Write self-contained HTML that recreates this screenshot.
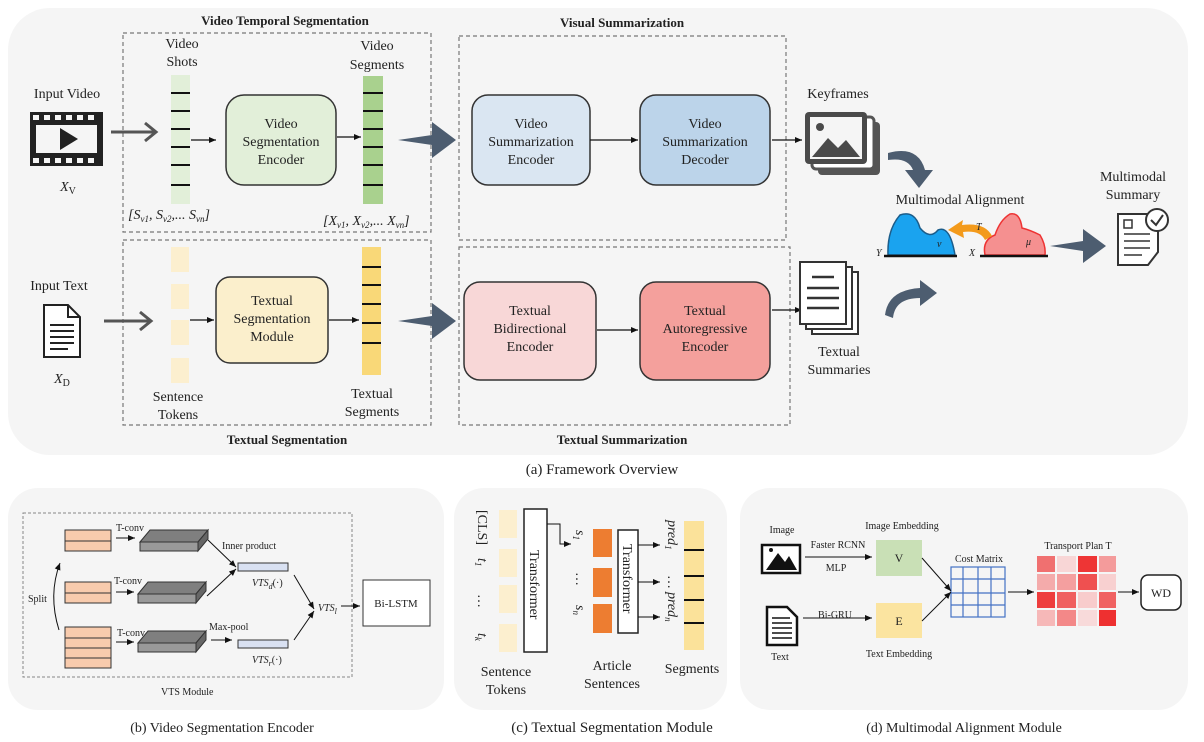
<!DOCTYPE html>
<html><head><meta charset="utf-8"><style>
html,body{margin:0;padding:0;background:#fff}
svg{display:block;font-family:"Liberation Serif",serif}
.t{font-size:14px;fill:#222}
.s{font-size:10px;fill:#222}
.b{font-weight:bold;font-size:13px}
.i{font-style:italic}
</style></head><body>
<svg width="1204" height="742" viewBox="0 0 1204 742" xmlns="http://www.w3.org/2000/svg">
<defs>
<marker id="a" markerWidth="8" markerHeight="8" refX="7" refY="4" orient="auto" markerUnits="userSpaceOnUse"><path d="M0,1 L7,4 L0,7 z" fill="#111"/></marker>
</defs>
<rect x="8" y="8" width="1180" height="447" rx="42" fill="#f5f5f5"/>
<g fill="none" stroke="#777" stroke-dasharray="4,3" stroke-width="1.2">
<rect x="123" y="33" width="308" height="199"/>
<rect x="459" y="36" width="327" height="204"/>
<rect x="123" y="240" width="308" height="185"/>
<rect x="459" y="247" width="331" height="178"/>
</g>
<g class="b" text-anchor="middle" fill="#222">
<text x="285" y="25">Video Temporal Segmentation</text>
<text x="622" y="27">Visual Summarization</text>
<text x="287" y="444">Textual Segmentation</text>
<text x="622" y="444">Textual Summarization</text>
</g>
<g class="t" text-anchor="middle">
<text x="67" y="98">Input Video</text>
<text x="182" y="48">Video</text><text x="182" y="66">Shots</text>
<text x="377" y="50">Video</text><text x="377" y="69">Segments</text>
<text x="59" y="290">Input Text</text>
<text x="178" y="401">Sentence</text><text x="178" y="419">Tokens</text>
<text x="372" y="398">Textual</text><text x="372" y="416">Segments</text>
<text x="838" y="98">Keyframes</text>
<text x="839" y="356">Textual</text><text x="839" y="374">Summaries</text>
<text x="960" y="204">Multimodal Alignment</text>
<text x="1133" y="181">Multimodal</text><text x="1133" y="199">Summary</text>
<text x="602" y="474" font-size="15">(a) Framework Overview</text>
</g>
<text x="68" y="191" class="t i" text-anchor="middle">X<tspan font-size="10" dy="3" font-style="normal">V</tspan></text>
<text x="62" y="383" class="t i" text-anchor="middle">X<tspan font-size="10" dy="3" font-style="normal">D</tspan></text>
<text x="128" y="219" class="t i">[S<tspan font-size="9" dy="3">v1</tspan><tspan dy="-3">, S</tspan><tspan font-size="9" dy="3">v2</tspan><tspan dy="-3">,... S</tspan><tspan font-size="9" dy="3">vn</tspan><tspan dy="-3">]</tspan></text>
<text x="323" y="225" class="t i">[X<tspan font-size="9" dy="3">v1</tspan><tspan dy="-3">, X</tspan><tspan font-size="9" dy="3">v2</tspan><tspan dy="-3">,... X</tspan><tspan font-size="9" dy="3">vn</tspan><tspan dy="-3">]</tspan></text>
<rect x="30" y="112" width="73" height="54" fill="#222"/>
<rect x="36" y="125" width="61" height="28" fill="#f5f5f5"/>
<g fill="#f5f5f5"><rect x="33" y="115" width="6" height="5"/><rect x="44" y="115" width="6" height="5"/><rect x="55" y="115" width="6" height="5"/><rect x="66" y="115" width="6" height="5"/><rect x="77" y="115" width="6" height="5"/><rect x="88" y="115" width="6" height="5"/>
<rect x="33" y="158" width="6" height="5"/><rect x="44" y="158" width="6" height="5"/><rect x="55" y="158" width="6" height="5"/><rect x="66" y="158" width="6" height="5"/><rect x="77" y="158" width="6" height="5"/><rect x="88" y="158" width="6" height="5"/></g>
<path d="M60,128 L78,139 L60,150 z" fill="#222"/>
<path d="M44,305 L68,305 L80,317 L80,357 L44,357 z" fill="#fff" stroke="#222" stroke-width="2"/>
<path d="M68,305 L68,317 L80,317" fill="none" stroke="#222" stroke-width="2"/>
<g stroke="#222" stroke-width="2"><line x1="50" y1="325" x2="74" y2="325"/><line x1="50" y1="331" x2="74" y2="331"/><line x1="50" y1="337" x2="74" y2="337"/><line x1="50" y1="343" x2="74" y2="343"/><line x1="50" y1="349" x2="68" y2="349"/></g>
<g stroke="#555" stroke-width="3" fill="none"><path d="M111,132 L155,132 M145,123 L156,132 L145,141"/><path d="M104,321 L150,321 M140,312 L151,321 L140,330"/></g>
<rect x="171" y="75" width="19" height="129" fill="#e2efd9"/>
<g stroke="#111" stroke-width="2"><line x1="171" y1="93" x2="190" y2="93"/><line x1="171" y1="111" x2="190" y2="111"/><line x1="171" y1="129" x2="190" y2="129"/><line x1="171" y1="147" x2="190" y2="147"/><line x1="171" y1="165" x2="190" y2="165"/><line x1="171" y1="185" x2="190" y2="185"/></g>
<rect x="363" y="76" width="20" height="128" fill="#a9d18e"/>
<g stroke="#111" stroke-width="2"><line x1="363" y1="93" x2="383" y2="93"/><line x1="363" y1="111" x2="383" y2="111"/><line x1="363" y1="129" x2="383" y2="129"/><line x1="363" y1="147" x2="383" y2="147"/><line x1="363" y1="165" x2="383" y2="165"/><line x1="363" y1="185" x2="383" y2="185"/></g>
<g fill="#fcefcf"><rect x="171" y="247" width="18" height="25"/><rect x="171" y="284" width="18" height="25"/><rect x="171" y="320" width="18" height="25"/><rect x="171" y="358" width="18" height="25"/></g>
<rect x="362" y="247" width="19" height="128" fill="#f9d878"/>
<g stroke="#111" stroke-width="2"><line x1="362" y1="267" x2="381" y2="267"/><line x1="362" y1="285" x2="381" y2="285"/><line x1="362" y1="304" x2="381" y2="304"/><line x1="362" y1="323" x2="381" y2="323"/><line x1="362" y1="343" x2="381" y2="343"/></g>
<g stroke="#333" stroke-width="1.5">
<rect x="226" y="95" width="110" height="90" rx="18" fill="#e2efd9"/>
<rect x="472" y="95" width="118" height="90" rx="16" fill="#dae6f2"/>
<rect x="640" y="95" width="130" height="90" rx="16" fill="#bcd4ea"/>
<rect x="216" y="277" width="112" height="86" rx="14" fill="#fbefcc"/>
<rect x="464" y="282" width="132" height="98" rx="16" fill="#f8d7d7"/>
<rect x="640" y="282" width="130" height="98" rx="16" fill="#f4a09c"/>
</g>
<g class="t" text-anchor="middle">
<text x="281" y="128">Video</text><text x="281" y="146">Segmentation</text><text x="281" y="164">Encoder</text>
<text x="531" y="128">Video</text><text x="531" y="146">Summarization</text><text x="531" y="164">Encoder</text>
<text x="705" y="128">Video</text><text x="705" y="146">Summarization</text><text x="705" y="164">Decoder</text>
<text x="272" y="305">Textual</text><text x="272" y="323">Segmentation</text><text x="272" y="341">Module</text>
<text x="530" y="315">Textual</text><text x="530" y="333">Bidirectional</text><text x="530" y="351">Encoder</text>
<text x="705" y="315">Textual</text><text x="705" y="333">Autoregressive</text><text x="705" y="351">Encoder</text>
</g>
<g stroke="#111" stroke-width="1.2" marker-end="url(#a)">
<line x1="191" y1="140" x2="216" y2="140"/><line x1="337" y1="137" x2="361" y2="137"/>
<line x1="590" y1="140" x2="638" y2="140"/><line x1="772" y1="140" x2="802" y2="140"/>
<line x1="190" y1="320" x2="214" y2="320"/><line x1="329" y1="320" x2="359" y2="320"/>
<line x1="597" y1="330" x2="638" y2="330"/><line x1="772" y1="310" x2="802" y2="310"/>
</g>
<g fill="#4d5d70">
<path d="M398,140 L432,135 L432,122 L456,140 L432,158 L432,145 z"/>
<path d="M398,321 L432,316 L432,303 L456,321 L432,339 L432,326 z"/>
<path d="M1050,246 L1083,241 L1083,229 L1106,246 L1083,263 L1083,251 z"/>
<path d="M888,153 Q918,145 925,170 L933,170 L919,188 L905,170 L913,170 Q908,157 888,160 z"/>
<path d="M885,315 Q888,290 920,288 L920,280 L937,293 L920,306 L920,298 Q895,298 893,318 z"/>
</g>
<rect x="818" y="122" width="62" height="53" rx="4" fill="#555"/>
<rect x="812" y="117" width="62" height="52" rx="4" fill="#fff" stroke="#555" stroke-width="3"/>
<rect x="805" y="112" width="62" height="52" rx="4" fill="#4a4a4a"/>
<rect x="810" y="117" width="52" height="42" fill="#f5f5f5"/>
<path d="M812,157 L828,138 L838,148 L846,140 L860,157 z" fill="#4a4a4a"/><circle cx="820" cy="127" r="4" fill="#4a4a4a"/>
<rect x="812" y="272" width="46" height="62" fill="#fff" stroke="#333" stroke-width="2"/>
<rect x="806" y="267" width="46" height="62" fill="#fff" stroke="#333" stroke-width="2"/>
<rect x="800" y="262" width="46" height="62" fill="#fff" stroke="#333" stroke-width="2"/>
<g stroke="#333" stroke-width="2.5"><line x1="812" y1="277" x2="834" y2="277"/><line x1="807" y1="288" x2="839" y2="288"/><line x1="807" y1="298" x2="839" y2="298"/><line x1="807" y1="308" x2="839" y2="308"/></g>
<path d="M888,255 Q887,230 900,215 Q915,210 920,228 Q930,240 938,230 Q950,225 955,255 z" fill="#1aa3ef" stroke="#1c5d8a" stroke-width="1.5"/>
<path d="M985,255 Q982,240 995,235 Q1000,220 1010,214 Q1020,212 1022,228 Q1030,230 1040,235 Q1046,245 1045,255 z" fill="#f59090" stroke="#e33" stroke-width="1.5"/>
<line x1="884" y1="256" x2="957" y2="256" stroke="#111" stroke-width="2.5"/>
<line x1="980" y1="256" x2="1048" y2="256" stroke="#111" stroke-width="2.5"/>
<path d="M992,236 Q985,222 962,225 L963,220 L948,230 L964,238 L963,232 Q980,230 985,240 z" fill="#f39a1b"/>
<text x="976" y="230" class="s i">T</text>
<text x="937" y="247" class="s i">ν</text><text x="1026" y="245" class="s i">μ</text>
<text x="876" y="256" class="s i" font-size="11">Y</text><text x="969" y="256" class="s i" font-size="11">X</text>
<path d="M1118,214 L1158,214 L1158,252 L1148,265 L1118,265 z" fill="#fff" stroke="#333" stroke-width="2"/>
<rect x="1124" y="220" width="8" height="8" fill="none" stroke="#333" stroke-width="1.5"/>
<g stroke="#333" stroke-width="1.5"><line x1="1124" y1="234" x2="1150" y2="234"/><line x1="1124" y1="241" x2="1150" y2="241"/><line x1="1124" y1="248" x2="1150" y2="248"/><line x1="1124" y1="255" x2="1142" y2="255"/></g>
<circle cx="1157" cy="220" r="11" fill="#fff" stroke="#333" stroke-width="2"/>
<path d="M1151,220 L1156,225 L1163,215" fill="none" stroke="#333" stroke-width="2"/>

<rect x="8" y="488" width="436" height="222" rx="30" fill="#f5f5f5"/>
<rect x="23" y="513" width="329" height="164" fill="none" stroke="#888" stroke-dasharray="3,2"/>
<g fill="#f8cbad" stroke="#333" stroke-width="1">
<rect x="65" y="530" width="46" height="11"/><rect x="65" y="541" width="46" height="10"/>
<rect x="65" y="582" width="46" height="11"/><rect x="65" y="593" width="46" height="10"/>
<rect x="65" y="627" width="46" height="11"/><rect x="65" y="638" width="46" height="10"/><rect x="65" y="648" width="46" height="10"/><rect x="65" y="658" width="46" height="10"/>
</g>
<g stroke="#333" stroke-width="1">
<path d="M140,542 L150,530 L208,530 L198,542 z" fill="#7f7f7f"/><rect x="140" y="542" width="58" height="9" fill="#999"/><path d="M198,542 L208,530 L208,539 L198,551 z" fill="#666"/>
<path d="M138,594 L148,582 L206,582 L196,594 z" fill="#7f7f7f"/><rect x="138" y="594" width="58" height="9" fill="#999"/><path d="M196,594 L206,582 L206,591 L196,603 z" fill="#666"/>
<path d="M138,643 L148,631 L206,631 L196,643 z" fill="#7f7f7f"/><rect x="138" y="643" width="58" height="9" fill="#999"/><path d="M196,643 L206,631 L206,640 L196,652 z" fill="#666"/>
<rect x="238" y="563" width="50" height="8" fill="#d9e1f2"/><rect x="238" y="640" width="50" height="8" fill="#d9e1f2"/>
<rect x="363" y="580" width="67" height="46" fill="#fff"/>
</g>
<g stroke="#111" stroke-width="1" fill="none" marker-end="url(#a)">
<line x1="116" y1="538" x2="135" y2="538"/><line x1="116" y1="592" x2="134" y2="592"/><line x1="116" y1="642" x2="134" y2="642"/>
<line x1="211" y1="640" x2="232" y2="640"/>
<path d="M208,540 L236,567"/><path d="M207,596 L236,569"/>
<path d="M294,575 L314,609"/><path d="M294,640 L314,611"/>
<line x1="341" y1="606" x2="360" y2="606"/>
<path d="M59,630 Q48,595 60,563"/>
</g>
<g class="s">
<text x="116" y="531">T-conv</text><text x="114" y="584">T-conv</text><text x="117" y="636">T-conv</text>
<text x="222" y="549">Inner product</text><text x="209" y="630">Max-pool</text>
<text x="28" y="602">Split</text>
<text x="161" y="695">VTS Module</text>
<text x="396" y="607" text-anchor="middle" font-size="11">Bi-LSTM</text>
</g>
<text x="252" y="586" class="s i" font-size="11">VTS<tspan font-size="8" dy="3">d</tspan><tspan dy="-3" font-style="normal">(·)</tspan></text>
<text x="252" y="663" class="s i" font-size="11">VTS<tspan font-size="8" dy="3">r</tspan><tspan dy="-3" font-style="normal">(·)</tspan></text>
<text x="318" y="611" class="s i" font-size="11">VTS<tspan font-size="8" dy="3">l</tspan></text>
<text x="222" y="732" class="t" text-anchor="middle" font-size="15">(b) Video Segmentation Encoder</text>

<rect x="454" y="488" width="273" height="222" rx="30" fill="#f5f5f5"/>
<g fill="#fcefcf"><rect x="499" y="510" width="18" height="28"/><rect x="499" y="549" width="18" height="28"/><rect x="499" y="585" width="18" height="28"/><rect x="499" y="624" width="18" height="28"/></g>
<rect x="524" y="509" width="23" height="143" fill="#fff" stroke="#222" stroke-width="1.5"/>
<g fill="#ed7d31"><rect x="593" y="529" width="19" height="28"/><rect x="593" y="568" width="19" height="29"/><rect x="593" y="604" width="19" height="29"/></g>
<rect x="618" y="530" width="20" height="103" fill="#fff" stroke="#222" stroke-width="1.5"/>
<rect x="684" y="521" width="20" height="129" fill="#fbe29a"/>
<g stroke="#111" stroke-width="2"><line x1="684" y1="550" x2="704" y2="550"/><line x1="684" y1="576" x2="704" y2="576"/><line x1="684" y1="600" x2="704" y2="600"/><line x1="684" y1="623" x2="704" y2="623"/></g>
<g stroke="#111" stroke-width="1" fill="none" marker-end="url(#a)">
<path d="M547,524 L560,524 L560,544 L571,544"/>
<path d="M638,545 L660,545"/><path d="M638,582 L660,582"/><path d="M638,617 L660,617"/>
</g>
<g class="t" font-size="13">
<text transform="translate(530,550) rotate(90)">Transformer</text>
<text transform="translate(623,544) rotate(90)">Transformer</text>
<text transform="translate(478,510) rotate(90)">[CLS]</text>
<text transform="translate(478,558) rotate(90)" class="i">t<tspan font-size="9" dy="3">1</tspan></text>
<text transform="translate(478,594) rotate(90)">…</text>
<text transform="translate(478,633) rotate(90)" class="i">t<tspan font-size="9" dy="3">k</tspan></text>
<text transform="translate(576,530) rotate(90)" class="i">s<tspan font-size="9" dy="3">1</tspan></text>
<text transform="translate(576,572) rotate(90)">…</text>
<text transform="translate(576,605) rotate(90)" class="i">s<tspan font-size="9" dy="3">n</tspan></text>
<text transform="translate(668,520) rotate(90)" class="i">pred<tspan font-size="9" dy="3">1</tspan></text>
<text transform="translate(668,575) rotate(90)">…</text>
<text transform="translate(668,592) rotate(90)" class="i">pred<tspan font-size="9" dy="3">n</tspan></text>
</g>
<g class="t" text-anchor="middle">
<text x="506" y="676">Sentence</text><text x="506" y="694">Tokens</text>
<text x="612" y="670">Article</text><text x="612" y="688">Sentences</text>
<text x="692" y="673">Segments</text>
<text x="612" y="732" font-size="15">(c) Textual Segmentation Module</text>
</g>

<rect x="740" y="488" width="448" height="222" rx="30" fill="#f5f5f5"/>
<rect x="762" y="545" width="38" height="28" fill="#fff" stroke="#111" stroke-width="2.5"/>
<path d="M766,570 L778,553 L785,562 L789,556 L797,570 z" fill="#111"/><circle cx="771" cy="550" r="2" fill="#111"/>
<path d="M767,607 L787,607 L797,617 L797,645 L767,645 z" fill="#fff" stroke="#111" stroke-width="2.5"/>
<g stroke="#111" stroke-width="1.5"><line x1="772" y1="618" x2="790" y2="618"/><line x1="772" y1="623" x2="792" y2="623"/><line x1="772" y1="628" x2="792" y2="628"/><line x1="772" y1="633" x2="792" y2="633"/><line x1="772" y1="638" x2="792" y2="638"/></g>
<rect x="876" y="540" width="46" height="36" fill="#c9e0b6"/>
<rect x="876" y="603" width="46" height="35" fill="#fbe4a0"/>
<g stroke="#4472c4" stroke-width="1.2" fill="none">
<rect x="951" y="567" width="54" height="50"/>
<line x1="963" y1="567" x2="963" y2="617"/><line x1="978" y1="567" x2="978" y2="617"/><line x1="991" y1="567" x2="991" y2="617"/>
<line x1="951" y1="579" x2="1005" y2="579"/><line x1="951" y1="593" x2="1005" y2="593"/><line x1="951" y1="605" x2="1005" y2="605"/>
</g>
<g>
<rect x="1037" y="556" width="18" height="16" fill="#f07070"/><rect x="1057" y="556" width="19" height="16" fill="#f8d6d6"/><rect x="1078" y="556" width="19" height="16" fill="#ee3535"/><rect x="1099" y="556" width="17" height="16" fill="#f49b9b"/>
<rect x="1037" y="574" width="18" height="16" fill="#f4abab"/><rect x="1057" y="574" width="19" height="16" fill="#f49f9f"/><rect x="1078" y="574" width="19" height="16" fill="#ef5050"/><rect x="1099" y="574" width="17" height="16" fill="#f8d0d0"/>
<rect x="1037" y="592" width="18" height="16" fill="#ee3d3d"/><rect x="1057" y="592" width="19" height="16" fill="#f06060"/><rect x="1078" y="592" width="19" height="16" fill="#f8cccc"/><rect x="1099" y="592" width="17" height="16" fill="#f06262"/>
<rect x="1037" y="610" width="18" height="16" fill="#f6b8b8"/><rect x="1057" y="610" width="19" height="16" fill="#f38888"/><rect x="1078" y="610" width="19" height="16" fill="#f8dada"/><rect x="1099" y="610" width="17" height="16" fill="#ee3030"/>
</g>
<rect x="1141" y="575" width="40" height="35" rx="7" fill="#fff" stroke="#222" stroke-width="1.5"/>
<g stroke="#111" stroke-width="1" fill="none" marker-end="url(#a)">
<line x1="805" y1="557" x2="872" y2="557"/><line x1="803" y1="618" x2="872" y2="618"/>
<path d="M922,558 L951,591"/><path d="M922,621 L951,592"/>
<line x1="1008" y1="592" x2="1034" y2="592"/><line x1="1118" y1="592" x2="1139" y2="592"/>
</g>
<g class="s" text-anchor="middle" font-size="11">
<text x="782" y="533">Image</text><text x="780" y="660">Text</text>
<text x="838" y="548">Faster RCNN</text><text x="836" y="571">MLP</text><text x="835" y="618">Bi-GRU</text>
<text x="902" y="529">Image Embedding</text><text x="899" y="657">Text Embedding</text>
<text x="979" y="562">Cost Matrix</text><text x="1078" y="549">Transport Plan T</text>
<text x="899" y="562" font-size="12">V</text><text x="899" y="625" font-size="12">E</text><text x="1161" y="597" font-size="12">WD</text>
</g>
<text x="964" y="732" class="t" text-anchor="middle" font-size="15">(d) Multimodal Alignment Module</text>
</svg>
</body></html>
